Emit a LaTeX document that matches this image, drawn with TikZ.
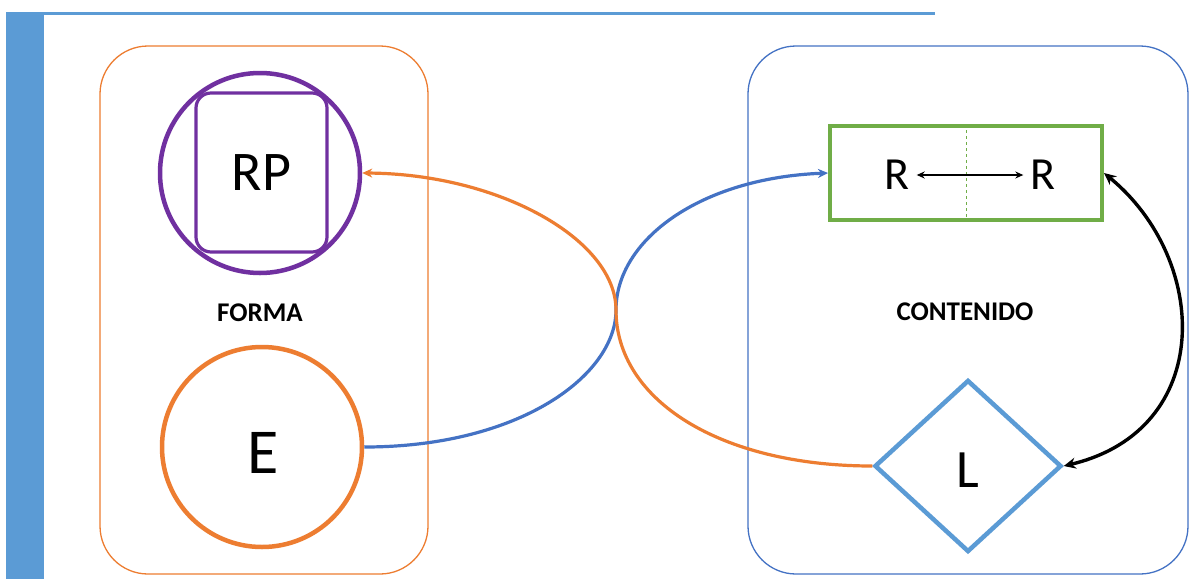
\documentclass[tikz,border=0pt]{standalone}
\usepackage{fontspec}
\setmainfont{Carlito}
\usetikzlibrary{shapes.geometric,arrows.meta}
\definecolor{orng}{HTML}{ED7D31}
\definecolor{dblue}{HTML}{4472C4}
\definecolor{lblue}{HTML}{5B9BD5}
\definecolor{grn}{HTML}{70AD47}
\definecolor{purp}{HTML}{7030A0}
\begin{document}
\begin{tikzpicture}[x=1pt,y=-1pt,
  bigbox/.style={line width=1.3pt, rounded corners=48pt, minimum width=#1, minimum height=528pt, inner sep=0pt},
  ring/.style={circle, line width=4.5pt, minimum size=200pt, inner sep=0pt},
  bigtext/.style={font=\fontsize{#1}{#1}\selectfont},
  lbl/.style={font=\bfseries\fontsize{27}{30}\selectfont},
  conn/.style={line width=3.2pt, -{Stealth[length=10pt,width=9pt]}},
]
\useasboundingbox (0,0) rectangle (1192,579);
\fill[white] (0,0) rectangle (1192,579);
% header bar and left band
\coordinate (hl) at (6,13);
\coordinate (hr) at (935,13);
\fill[lblue] (6,12) rectangle (44,579);
\draw[lblue, line width=3pt] (hl) -- (hr);

% group boxes
\node[bigbox=328pt, draw=orng] (formabox) at (264,310) {};
\node[bigbox=440pt, draw=dblue] (contbox) at (968,310) {};

% FORMA side
\node[ring, draw=purp] (rpc) at (260,173) {};
\node[draw=purp, line width=3.2pt, rounded corners=15pt, minimum width=131pt, minimum height=159pt, inner sep=0pt, bigtext=56] (rp) at (261.5,172.5) {RP};
\node[lbl] (formalbl) at (260,313) {FORMA};
\node[ring, draw=orng] (ec) at (262,447) {};
\node[bigtext=64] (e) at (263,453) {E};

% CONTENIDO side
\node[draw=grn, line width=4pt, minimum width=272pt, minimum height=94pt, inner sep=0pt] (g) at (966,173) {};
\draw[grn, dashed, line width=1pt] (g.north) -- (g.south);
\node[bigtext=46, inner sep=7pt] (r1) at (897,175) {R};
\node[bigtext=46, inner sep=7pt] (r2) at (1043,175) {R};
\draw[line width=1.4pt, {Stealth[length=8pt,width=7pt]}-{Stealth[length=8pt,width=7pt]}] (r1) -- (r2);
\node[lbl] (contlbl) at (965,312) {CONTENIDO};
\node[diamond, draw=lblue, line width=4.5pt, minimum width=187pt, minimum height=172pt, inner sep=0pt] (d) at (968,466) {};
\node[bigtext=54] (l) at (968,470) {L};

% connectors
\coordinate (x) at (616,310);
\draw[conn, dblue] (ec.east) .. controls (520,447) and (616,375) .. (x)
   .. controls (616,240) and (700,178) .. (g.west);
\draw[conn, orng] (d.west) .. controls (720,466) and (616,400) .. (x)
   .. controls (616,240) and (500,174) .. (rpc.east);
\draw[line width=3.4pt, {Stealth[length=12pt,width=11pt]}-{Stealth[length=12pt,width=11pt]}]
   (g.east) .. controls (1210,260) and (1215,430) .. (d.east);
\end{tikzpicture}
\end{document}
